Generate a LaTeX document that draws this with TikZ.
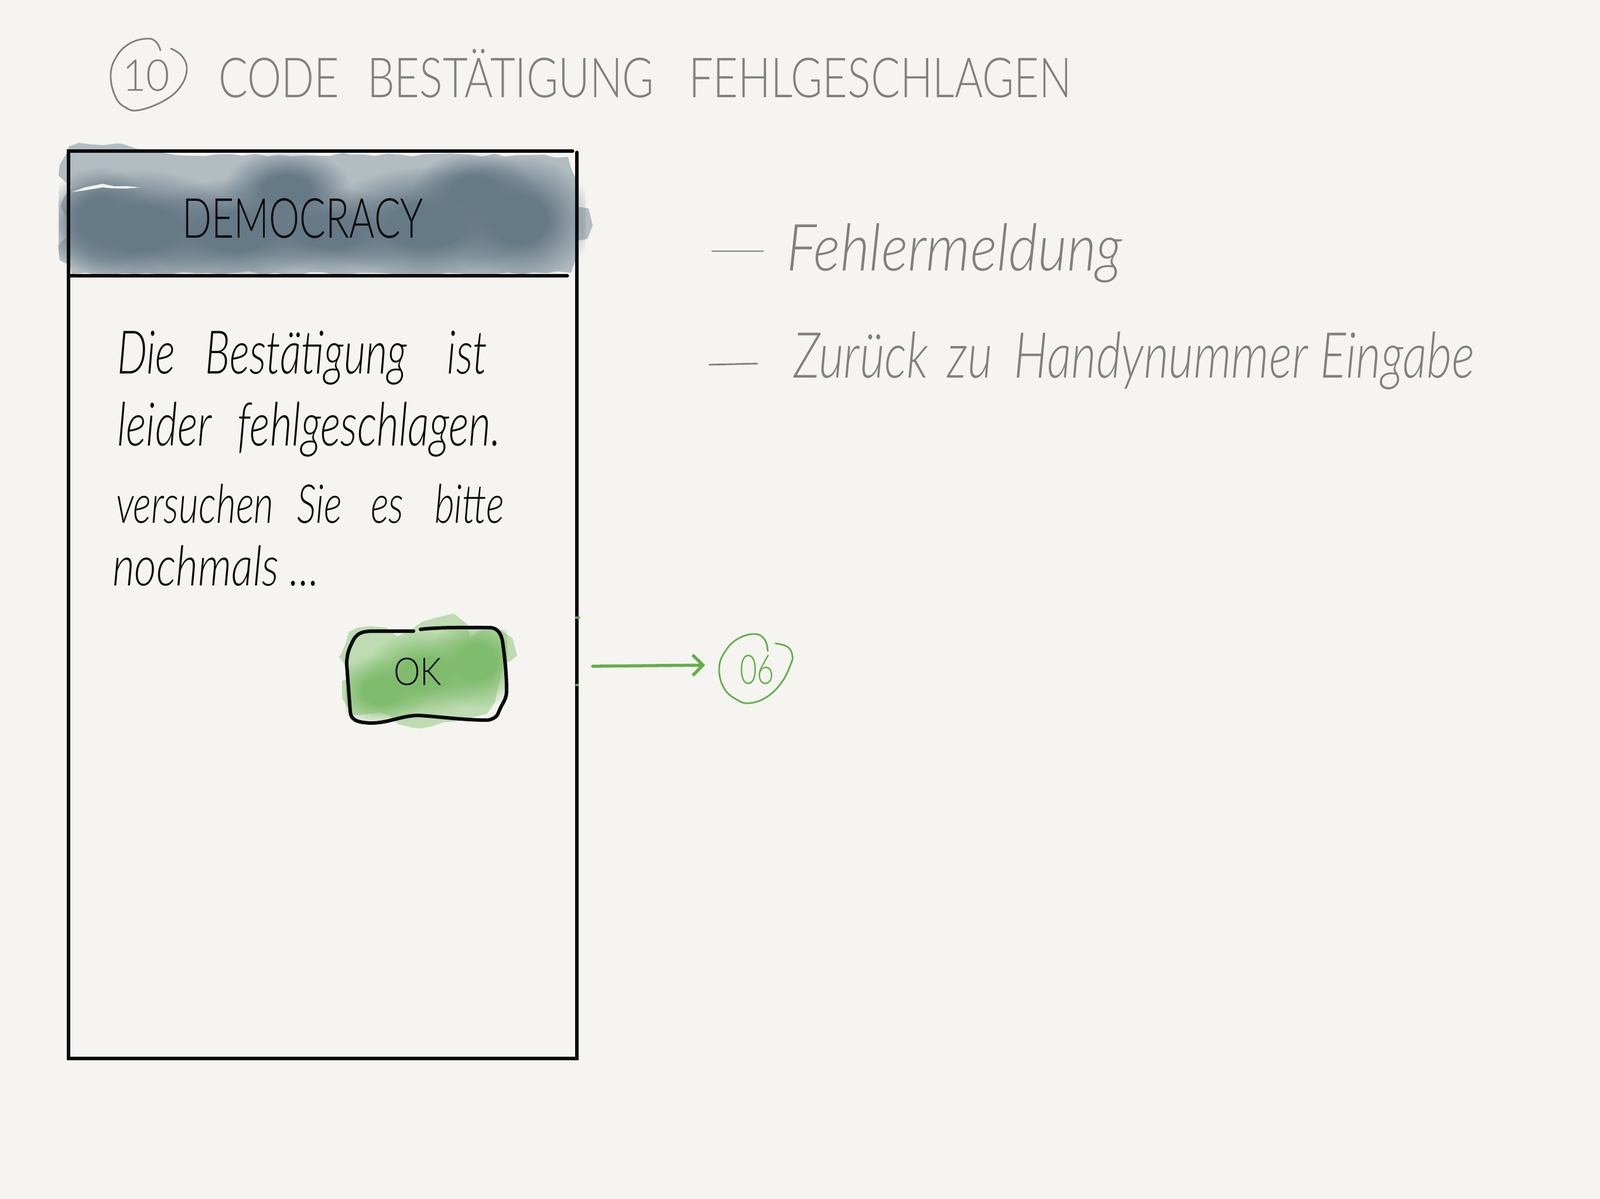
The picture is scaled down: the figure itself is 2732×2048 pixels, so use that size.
\documentclass[tikz,border=0pt]{standalone}
\usepackage{fontspec}
\usepackage{graphicx}
\setmainfont{Lato Light}[ItalicFont={Lato Light Italic}]
\usetikzlibrary{arrows.meta,decorations.pathmorphing,fadings}
\newlength\upx \setlength\upx{0.01cm}
\newcommand\fitt[3]{\resizebox{#1\upx}{#2\upx}{\raisebox{0pt}[0.72em][0pt]{#3}}}
\definecolor{paper}{HTML}{F5F4F0}
\definecolor{pencil}{HTML}{808080}
\definecolor{ink}{HTML}{0A0A0A}
\definecolor{leaf}{HTML}{62AF4A}
\definecolor{slatebase}{HTML}{B2BCC1}
\definecolor{slatedark}{HTML}{667986}
\definecolor{leafbase}{HTML}{BEDBB2}
\definecolor{leafdark}{HTML}{80BC6D}
\pgfdeclareradialshading{softblobshade}{\pgfpointorigin}{color(0bp)=(white);color(9bp)=(white);color(25bp)=(black);color(50bp)=(black)}
\pgfdeclarefading{softblob}{\pgfuseshading{softblobshade}}
\tikzset{
  txt/.style={anchor=south west,inner sep=0pt,outer sep=0pt},
  graytxt/.style={txt,text=pencil},
  inktxt/.style={txt,text=ink},
  leaftxt/.style={txt,text=leaf},
  frame/.style={draw=ink,line width=1.5pt,line cap=round},
  btn/.style={draw=ink,line width=1.7pt,line cap=round,line join=round},
  thingray/.style={draw=pencil,line width=0.8pt,line cap=round},
  thinleaf/.style={draw=leaf,line width=0.8pt,line cap=round},
  rough/.style={decorate,decoration={random steps,segment length=6pt,amplitude=0.9pt}},
  blob/.style={path fading=softblob},
}
\begin{document}
\begin{tikzpicture}[x=0.01cm,y=-0.01cm]
\useasboundingbox (0,0) rectangle (2732,2048);
\fill[paper] (0,0) rectangle (2732,2048);

% title
\draw[thingray,line join=round] plot[smooth,tension=0.7] coordinates {(274,86)(266,71)(250,66)(222,74)(200,95)(189,127)(197,165)(215,184)(238,188)(280,172)(308,148)(319,118)(310,95)(292,83)};
\node[graytxt] (num) at (209,155) {\fitt{81}{54}{10}};
\node[graytxt] (title) at (373,166) {\fitt{1457}{68}{CODE\hspace{0.65em}BESTÄTIGUNG\hspace{0.8em}FEHLGESCHLAGEN}};

% header wash
\fill[slatebase,rough] (118,250)--(135,244)--(210,246)--(262,258)--(330,266)--(600,264)--(800,264)--(970,268)--(985,310)--(988,350)--(980,352)--(1005,356)--(1012,385)--(1003,408)--(982,412)--(984,440)--(975,466)--(700,468)--(400,466)--(122,468)--(120,454)--(102,444)--(99,419)--(120,393)--(103,352)--(122,320)--(100,300)--(102,281)--cycle;
\begin{scope}
\clip (100,262) rectangle (1000,466);
\fill[slatedark,blob] (241,390) ellipse [x radius=165,y radius=100];
\fill[slatedark,blob] (170,375) ellipse [x radius=95,y radius=90];
\fill[slatedark,blob] (400,395) ellipse [x radius=165,y radius=90];
\fill[slatedark,blob] (490,325) ellipse [x radius=110,y radius=70];
\fill[slatedark,blob] (563,395) ellipse [x radius=150,y radius=75];
\fill[slatedark,blob] (726,385) ellipse [x radius=175,y radius=100];
\fill[slatedark,blob] (885,375) ellipse [x radius=130,y radius=110];
\fill[slatedark,blob] (810,325) ellipse [x radius=105,y radius=65];
\end{scope}
\fill[paper,rough] (123,328)--(145,320)--(175,314)--(215,318)--(240,320)--(215,322)--(175,320)--(145,325)--cycle;

% phone frame
\coordinate (tl) at (117,258);
\coordinate (tr) at (978,258);
\coordinate (rt) at (985,260);
\coordinate (br) at (985,1808);
\coordinate (bl) at (117,1808);
\coordinate (hl) at (117,471);
\coordinate (hr) at (969,471);
\draw[frame] (tr)--(tl)--(bl)--(br)--(rt);
\draw[frame] (hl)--(hr);
\node[inktxt] (brand) at (311,406) {\fitt{412}{68}{DEMOCRACY}};

% message
\node[inktxt] (l1) at (200,638) {\fitt{632}{74}{\itshape Die\hspace{0.7em}Bestätigung\hspace{0.95em}ist}};
\node[inktxt] (l2) at (200,761) {\fitt{655}{74}{\itshape leider\hspace{0.6em}fehlgeschlagen.}};
\node[inktxt] (l3) at (198,893) {\fitt{663}{66}{\itshape versuchen\hspace{0.6em}Sie\hspace{0.75em}es\hspace{0.8em}bitte}};
\node[inktxt] (l4) at (192,1000) {\fitt{353}{68}{\itshape nochmals ...}};

% ok button
\fill[leafbase,rough] (581,1120)--(590,1100)--(595,1080)--(610,1072)--(660,1072)--(678,1087)--(721,1062)--(745,1055)--(775,1048)--(790,1060)--(798,1067)--(803,1090)--(818,1078)--(835,1070)--(858,1078)--(875,1090)--(883,1120)--(870,1130)--(861,1133)--(850,1177)--(845,1200)--(831,1220)--(780,1232)--(740,1240)--(705,1243)--(680,1237)--(666,1223)--(650,1217)--(625,1220)--(600,1222)--(595,1210)--(584,1193)--(584,1163)--(592,1160)--(592,1140)--(581,1125)--cycle;
\begin{scope}
\clip (590,1075) rectangle (866,1230);
\fill[leafdark,blob] (650,1180) ellipse [x radius=85,y radius=60];
\fill[leafdark,blob] (725,1150) ellipse [x radius=105,y radius=72];
\fill[leafdark,blob] (815,1130) ellipse [x radius=85,y radius=80];
\end{scope}
\draw[btn] (706,1078) -- (640,1078) .. controls (615,1078) and (608,1082) .. (600,1100) .. controls (595,1110) and (592,1120) .. (592,1135) -- (598,1215) .. controls (599,1228) and (606,1234) .. (633,1235) .. controls (665,1235) and (685,1222) .. (715,1222) .. controls (750,1224) and (790,1230) .. (833,1230) .. controls (845,1228) and (850,1222) .. (852,1215) .. controls (858,1200) and (865,1195) .. (865,1180) .. controls (865,1150) and (862,1125) .. (858,1095) .. controls (855,1080) and (848,1072) .. (836,1072) .. controls (800,1072) and (750,1071) .. (718,1075);
\node[inktxt] (oktxt) at (672,1170) {\fitt{82}{47}{OK}};

% target and arrow
\draw[leaf,line width=1.2pt,line cap=round] (984,1055)--(989,1055);
\draw[leaf,line width=1pt,line cap=round] (984,1170)--(987,1170);
\node[inner sep=0pt,minimum size=118\upx,circle] (ret) at (1290,1142) {};
\coordinate (astart) at (1012,1138);
\coordinate (atip) at (1204,1136);
\draw[draw=leaf,line width=1.5pt,line cap=round,line join=round,-{Straight Barb[length=5pt,width=10pt]}] (astart)--(atip);
\draw[thinleaf] plot[smooth,tension=0.7] coordinates {(1311,1112)(1306,1093)(1290,1083)(1262,1090)(1240,1110)(1228,1140)(1236,1175)(1258,1195)(1280,1201)(1310,1190)(1335,1165)(1350,1135)(1353,1120)(1345,1105)(1324,1099)};
\node[leaftxt] (dest) at (1263,1168) {\fitt{59}{50}{06}};

% notes
\coordinate (d1a) at (1216,429);
\coordinate (d1b) at (1303,429);
\coordinate (d2a) at (1211,623);
\coordinate (d2b) at (1293,621);
\draw[thingray] (d1a)--(d1b);
\draw[thingray] (d2a)--(d2b);
\node[graytxt] (n1) at (1343,462) {\fitt{573}{80}{\itshape Fehlermeldung}};
\node[graytxt] (n2) at (1355,645) {\fitt{1162}{78}{\itshape Zurück\hspace{0.4em}zu\hspace{0.45em}Handynummer Eingabe}};
\end{tikzpicture}
\end{document}
